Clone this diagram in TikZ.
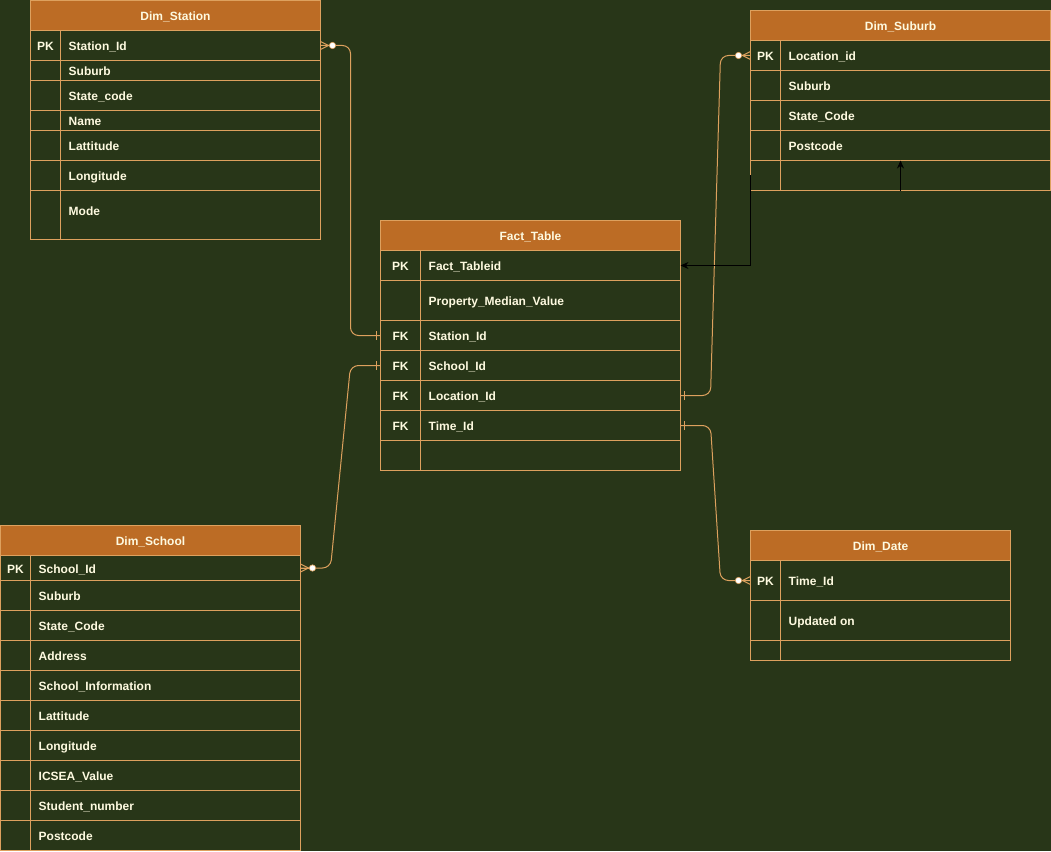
\documentclass[tikz,border=0pt]{standalone}
\usepackage{fontspec}
\newfontfamily\erfam{Liberation Sans}
\usetikzlibrary{arrows.meta,calc}
\definecolor{erbg}{HTML}{283618}
\definecolor{erhead}{HTML}{BC6C25}
\definecolor{erline}{HTML}{DDA15E}
\definecolor{ertext}{HTML}{FEFAE0}
\newcommand\erfont{\erfam\bfseries\fontsize{12}{14}\selectfont}
\tikzset{
  cell/.style={draw=erline, fill=erbg, line width=1pt, inner sep=0pt, outer sep=0pt,
    text=ertext, font=\erfont, text height=10.4pt, text depth=0pt},
  hdr/.style={cell, fill=erhead},
  lbl/.style={text=ertext, font=\erfont, inner sep=0pt, anchor=west, text height=10.4pt, text depth=0pt},
  conn/.style={draw=erline, line width=1pt},
  blk/.style={draw=black, line width=1pt, -{Stealth[length=8pt,width=7pt]}},
}
% name, x, y, w, h, keywidth, key, label
\newcommand\erow[8]{%
  \node[cell, anchor=north west, minimum width=#4pt, minimum height=#5pt] (#1) at (#2,#3) {};
  \node[cell, anchor=north west, minimum width=#6pt, minimum height=#5pt] (#1k) at (#2,#3) {#7};
  \node[lbl] (#1t) at ([xshift=8pt]#1k.east) {#8};
}
% name, x, y, w, title
\newcommand\ehead[5]{%
  \node[hdr, anchor=north west, minimum width=#4pt, minimum height=30pt] (#1) at (#2,#3) {#5};
}
% crow's foot (zero or many): anchor, direction
\newcommand\zmany[2]{%
  \draw[conn] ([yshift=4pt]#1) -- ([xshift=#2*8pt]#1) -- ([yshift=-4pt]#1);
  \draw[conn] (#1) -- ([xshift=#2*9pt]#1);
  \draw[draw=erline, fill=white, line width=0.6pt] ([xshift=#2*12pt]#1) circle (3.2pt);
}
% single bar (one): anchor, direction
\newcommand\onebar[2]{%
  \draw[conn] ([xshift=#2*4pt, yshift=4.5pt]#1) -- ([xshift=#2*4pt, yshift=-4.5pt]#1);
}
\begin{document}
\begin{tikzpicture}[x=1pt,y=-1pt]
\fill[erbg] (0,0) rectangle (1051,851);
\useasboundingbox (0,0) rectangle (1051,851);

% Dim_Station
\ehead{stH}{30.5}{0.5}{290}{Dim\_Station}
\erow{stSid}{30.5}{30.5}{290}{30}{30}{PK}{Station\_Id}
\erow{stSub}{30.5}{60.5}{290}{20}{30}{}{Suburb}
\erow{stState}{30.5}{80.5}{290}{30}{30}{}{State\_code}
\erow{stName}{30.5}{110.5}{290}{20}{30}{}{Name}
\erow{stLat}{30.5}{130.5}{290}{30}{30}{}{Lattitude}
\erow{stLon}{30.5}{160.5}{290}{30}{30}{}{Longitude}
\erow{stMode}{30.5}{190.5}{290}{49}{30}{}{}
\node[lbl] at ([xshift=8pt, yshift=5pt]stModek.east) {Mode};

% Dim_Suburb
\ehead{suH}{750.5}{10.5}{300}{Dim\_Suburb}
\erow{suLoc}{750.5}{40.5}{300}{30}{30}{PK}{Location\_id}
\erow{suSub}{750.5}{70.5}{300}{30}{30}{}{Suburb}
\erow{suState}{750.5}{100.5}{300}{30}{30}{}{State\_Code}
\erow{suPost}{750.5}{130.5}{300}{30}{30}{}{Postcode}
\erow{suE}{750.5}{160.5}{300}{30}{30}{}{}

% Fact_Table
\ehead{fH}{380.5}{220.5}{300}{Fact\_Table}
\erow{fPK}{380.5}{250.5}{300}{30}{40}{PK}{Fact\_Tableid}
\erow{fProp}{380.5}{280.5}{300}{40}{40}{}{Property\_Median\_Value}
\erow{fStation}{380.5}{320.5}{300}{30}{40}{FK}{Station\_Id}
\erow{fSchool}{380.5}{350.5}{300}{30}{40}{FK}{School\_Id}
\erow{fLoc}{380.5}{380.5}{300}{30}{40}{FK}{Location\_Id}
\erow{fTime}{380.5}{410.5}{300}{30}{40}{FK}{Time\_Id}
\erow{fE}{380.5}{440.5}{300}{30}{40}{}{}

% Dim_School
\ehead{scH}{0.5}{525.5}{300}{Dim\_School}
\erow{scSid}{0.5}{555.5}{300}{25}{30}{PK}{School\_Id}
\erow{scSub}{0.5}{580.5}{300}{30}{30}{}{Suburb}
\erow{scState}{0.5}{610.5}{300}{30}{30}{}{State\_Code}
\erow{scAddr}{0.5}{640.5}{300}{30}{30}{}{Address}
\erow{scInfo}{0.5}{670.5}{300}{30}{30}{}{School\_Information}
\erow{scLat}{0.5}{700.5}{300}{30}{30}{}{Lattitude}
\erow{scLon}{0.5}{730.5}{300}{30}{30}{}{Longitude}
\erow{scIcsea}{0.5}{760.5}{300}{30}{30}{}{ICSEA\_Value}
\erow{scStud}{0.5}{790.5}{300}{30}{30}{}{Student\_number}
\erow{scPost}{0.5}{820.5}{300}{30}{30}{}{Postcode}

% Dim_Date
\ehead{dH}{750.5}{530.5}{260}{Dim\_Date}
\erow{dTime}{750.5}{560.5}{260}{40}{30}{PK}{Time\_Id}
\erow{dUpd}{750.5}{600.5}{260}{40}{30}{}{Updated on}
\erow{dE}{750.5}{640.5}{260}{20}{30}{}{}

% connectors
\draw[conn, rounded corners=8pt] (stSid.east) -- ([xshift=30pt]stSid.east) |- (fStation.west);
\zmany{stSid.east}{1}
\onebar{fStation.west}{-1}

\draw[conn, rounded corners=8pt] (scSid.east) -- ([xshift=30pt]scSid.east) -- ([xshift=-30pt]fSchool.west) -- (fSchool.west);
\zmany{scSid.east}{1}
\onebar{fSchool.west}{-1}

\draw[conn, rounded corners=8pt] (fLoc.east) -- ([xshift=30pt]fLoc.east) -- ([xshift=-30pt]suLoc.west) -- (suLoc.west);
\onebar{fLoc.east}{1}
\zmany{suLoc.west}{-1}

\draw[conn, rounded corners=8pt] (fTime.east) -- ([xshift=30pt]fTime.east) -- ([xshift=-30pt]dTime.west) -- (dTime.west);
\onebar{fTime.east}{1}
\zmany{dTime.west}{-1}

% black arrows
\coordinate (bs) at (750.5,175);
\draw[blk] (bs) |- (fPK.east);
\draw[blk] (suE.south) -- (suPost.south);
\end{tikzpicture}
\end{document}
